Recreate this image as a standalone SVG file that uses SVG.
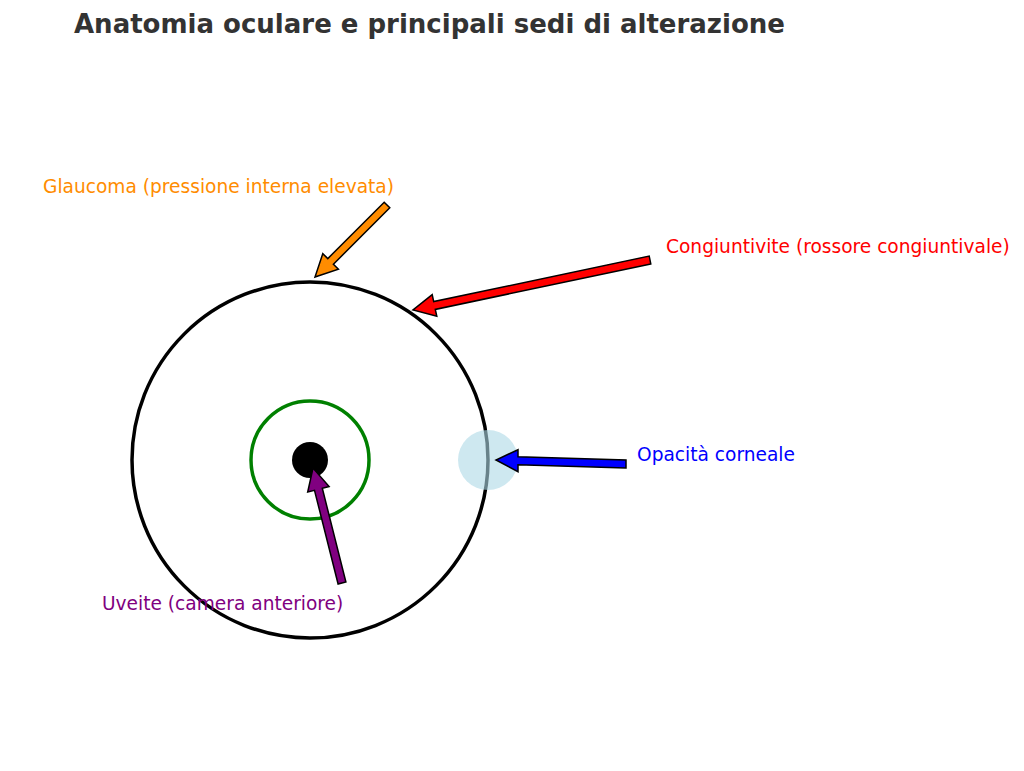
<svg xmlns="http://www.w3.org/2000/svg" width="1024" height="771" viewBox="0 0 1024 771">
<style>
text{font-family:"DejaVu Sans",sans-serif;font-size:18.6px}
.ar{stroke:#000;stroke-width:1.5;stroke-linejoin:miter}
</style>
<rect width="1024" height="771" fill="#fff"/>
<text x="74" y="33" style="font-size:26px;font-weight:bold" fill="#333">Anatomia oculare e principali sedi di alterazione</text>
<g id="eye"><circle cx="310" cy="460" r="178" fill="none" stroke="#000" stroke-width="3.5"/></g>
<g id="iris"><circle cx="310" cy="460" r="59" fill="none" stroke="green" stroke-width="3.5"/></g>
<g id="pupil"><circle cx="310" cy="460" r="18" fill="#000"/></g>
<g id="cornea"><circle cx="488" cy="460" r="30" fill="#add8e6" fill-opacity="0.6"/></g>
<g id="connectors">
<polygon class="ar" fill="#ff8c00" points="389.8,207.8 333.4,264.2 338.4,269.2 315,277 322.8,253.6 327.8,258.6 384.2,202.2"/>
<polygon class="ar" fill="red" points="650.8,263.9 435.3,309.4 436.8,316.3 413,310 432.2,294.7 433.7,301.6 649.2,256.1"/>
<polygon class="ar" fill="blue" points="626,468 518,464.7 518,471.7 496,460 518,449.7 518,456.7 626,460"/>
<polygon class="ar" fill="purple" points="345.9,582 322.3,488.3 329.1,486.6 313,468 307.7,492 314.5,490.3 338.1,584"/>
</g>
<g id="labels">
<text x="43" y="193" fill="#ff8c00">Glaucoma (pressione interna elevata)</text>
<text x="666" y="253" fill="red">Congiuntivite (rossore congiuntivale)</text>
<text x="637" y="461" fill="blue">Opacità corneale</text>
<text x="102" y="610" fill="purple">Uveite (camera anteriore)</text>
</g>
</svg>
